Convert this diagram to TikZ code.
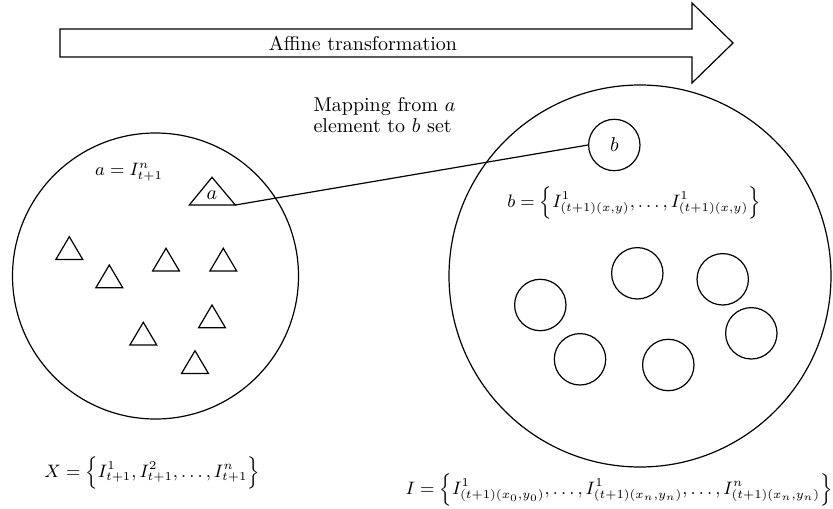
\documentclass[tikz,border=0pt]{standalone}
\usepackage{amsmath}
\begin{document}
\begin{tikzpicture}[x=0.5pt,y=-0.5pt,line width=0.6pt,
  bigset/.style={draw,circle,inner sep=0pt,outer sep=0pt},
  elem/.style={draw,circle,inner sep=0pt,minimum size=25.7pt},
  tri/.style={draw,line join=miter},
  lbl/.style={inner sep=0pt},
  formula/.style={inner sep=0pt,font=\fontsize{9}{10.8}\selectfont}]
\useasboundingbox (0,0) rectangle (833,508);
% transformation arrow
\draw (60,29) -- (692,29) -- (692,3) -- (733,43) -- (692,83) -- (692,57) -- (60,57) -- cycle;
\node[lbl] (aff) at (363,43) {Affine transformation};
% sets
\node[bigset,minimum size=143pt] (X) at (155.5,276) {};
\node[bigset,minimum size=191pt] (I) at (640,276) {};
% triangles in X
\foreach \x/\y in {69.3/236.7,109.3/265,166/248.3,223.3/248.3,212/305,143.3/322.3,195/350.7}
  \draw[tri] (\x,\y) -- ++(13.4,22.7) -- ++(-26.8,0) -- cycle;
\draw[tri] (212,177.3) -- (235.3,205) -- (189.3,205) -- cycle;
\node[lbl] (a) at (212,195) {$a$};
\coordinate (acorner) at (235.3,205);
\node[formula] (adef) at (129,172) {$a = I^{n}_{t+1}$};
% elements of I
\node[elem] (b) at (614.3,145) {$b$};
\foreach \x/\y in {637.3/273.3,722.7/279.3,540.3/305,751.3/333.3,580/359.3,668.3/365}
  \node[elem] at (\x,\y) {};
\node[formula] (bdef) at (634,203) {$b = \Bigl\{I^{1}_{(t+1)(x,y)},\ldots,I^{1}_{(t+1)(x,y)}\Bigr\}$};
% mapping
\draw (acorner) -- (b.west);
\node[lbl,anchor=west,align=left,font=\linespread{0.85}\selectfont] (map) at (313,115) {Mapping from $a$\\element to $b$ set};
% set definitions
\node[formula] (Xdef) at (152,473) {$X = \Bigl\{I^{1}_{t+1},I^{2}_{t+1},\ldots,I^{n}_{t+1}\Bigr\}$};
\node[formula] (Idef) at (619,490) {$I = \Bigl\{I^{1}_{(t+1)(x_0,y_0)},\ldots,I^{1}_{(t+1)(x_n,y_n)},\ldots,I^{n}_{(t+1)(x_n,y_n)}\Bigr\}$};
\end{tikzpicture}
\end{document}
